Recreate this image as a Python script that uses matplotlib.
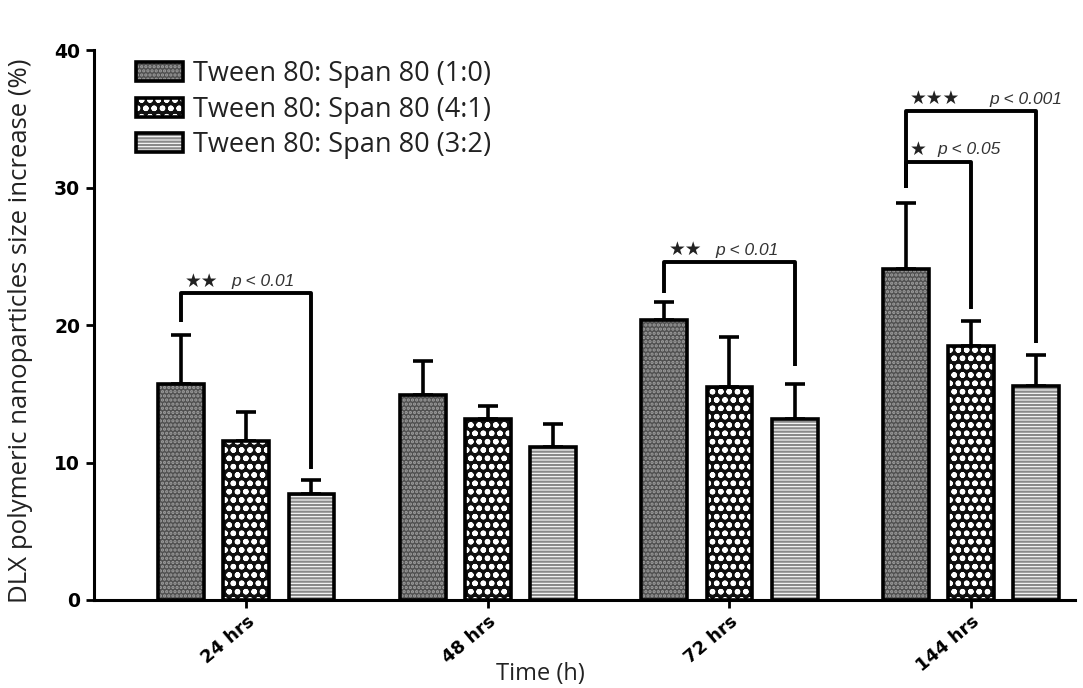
import numpy as np
import matplotlib
matplotlib.use("Agg")
import matplotlib.pyplot as plt
from matplotlib.patches import Patch
from matplotlib.legend_handler import HandlerTuple

groups = ["24 hrs", "48 hrs", "72 hrs", "144 hrs"]
series = ["Tween 80: Span 80 (1:0)", "Tween 80: Span 80 (4:1)", "Tween 80: Span 80 (3:2)"]
vals_10 = [15.7, 14.9, 20.4, 24.1]
vals_41 = [11.6, 13.2, 15.5, 18.5]
vals_32 = [7.7, 11.1, 13.2, 15.6]
err_10 = [3.6, 2.5, 1.3, 4.8]
err_41 = [2.1, 0.9, 3.6, 1.8]
err_32 = [1.0, 1.7, 2.5, 2.2]
yticks = [0, 10, 20, 30, 40]

# significance brackets: group, bar a, bar b, top y, end y at a, end y at b, stars, p text
brackets = [
    (0, 0, 2, 22.3, 20.2, 9.5, "★★", "p < 0.01"),
    (2, 0, 2, 24.6, 22.3, 17.0, "★★", "p < 0.01"),
    (3, 0, 1, 31.9, 30.0, 21.2, "★", "p < 0.05"),
    (3, 0, 2, 35.6, 30.0, 18.7, "★★★", "p < 0.001"),
]

plt.rcParams["hatch.linewidth"] = 1.6

fig = plt.figure(figsize=(10.83, 6.88), dpi=100)
ax = fig.add_axes([0.0868, 0.128, 0.9058, 0.799])

x = np.arange(len(groups))
off = 0.27
w = 0.19
styles = [
    dict(facecolor="#505050", hatch="....", edgecolor="#a0a0a0"),
    dict(facecolor="#111111", hatch="oo", edgecolor="white"),
    dict(facecolor="white", hatch="-----", edgecolor="#8a8a8a"),
]
data = [(vals_10, err_10), (vals_41, err_41), (vals_32, err_32)]

handles = []
for i, ((v, e), st) in enumerate(zip(data, styles)):
    xs = x + (i - 1) * off
    ax.errorbar(xs, v, yerr=[np.zeros(len(e)), e], fmt="none", ecolor="black",
                elinewidth=2.6, capsize=7.5, capthick=2.6, zorder=1)
    ax.bar(xs, v, w, linewidth=0, zorder=2, **st)
    ax.bar(xs, v, w, fill=False, edgecolor="black", linewidth=2.6, zorder=3)
    handles.append((Patch(linewidth=0, **st),
                    Patch(fill=False, edgecolor="black", linewidth=2.6)))

for g, a, b, ytop, ya, yb, stars, ptxt in brackets:
    xa = x[g] + (a - 1) * off
    xb = x[g] + (b - 1) * off
    ax.plot([xa, xa, xb, xb], [ya, ytop, ytop, yb], color="black", lw=2.8,
            solid_joinstyle="round", solid_capstyle="butt", zorder=4, clip_on=False)
    ax.annotate(stars, (xa, ytop), xytext=(3, 2), textcoords="offset points",
                fontsize=13.5, ha="left", va="bottom", color="#222222",
                family="DejaVu Sans")
    gap = 16 if len(stars) == 3 else 6
    ax.annotate(ptxt, (xa, ytop), xytext=(3 + 13.8 * len(stars) + gap, 3),
                textcoords="offset points", fontsize=12.5, style="italic",
                ha="left", va="bottom", color="#333333", family="Liberation Sans")

ax.set_xlim(-0.63, 3.43)
ax.set_ylim(0, 40)
ax.set_yticks(yticks, labels=[str(t) for t in yticks], fontsize=13.5,
              fontweight="bold", family="DejaVu Sans")
ax.set_xticks(x, labels=groups, rotation=40, ha="right", rotation_mode="anchor",
              fontsize=13, fontweight="bold", family="DejaVu Sans")
ax.tick_params(axis="both", width=2, length=6, direction="out", color="black")
ax.tick_params(axis="x", pad=3)
ax.tick_params(axis="y", pad=4)
for s in ["top", "right"]:
    ax.spines[s].set_visible(False)
for s in ["left", "bottom"]:
    ax.spines[s].set_linewidth(2.2)

ax.set_ylabel("DLX polymeric nanoparticles size increase (%)", fontsize=18.5,
              family="Open Sans", color="#222222")
ax.yaxis.set_label_coords(-0.062, 0.49)
ax.set_xlabel("Time (h)", fontsize=17, family="Open Sans", color="#222222")
ax.xaxis.set_label_coords(0.4546, -0.112)

leg = ax.legend(handles, series, loc="upper left", bbox_to_anchor=(0.103, 0.948),
                bbox_transform=fig.transFigure, frameon=False,
                prop={"family": "Open Sans", "size": 19.5}, handlelength=1.75,
                handleheight=0.7, handletextpad=0.35, labelspacing=0.28,
                handler_map={tuple: HandlerTuple(ndivide=1)})
for t in leg.get_texts():
    t.set_color("#222222")

fig.savefig("out.png", dpi=100)
